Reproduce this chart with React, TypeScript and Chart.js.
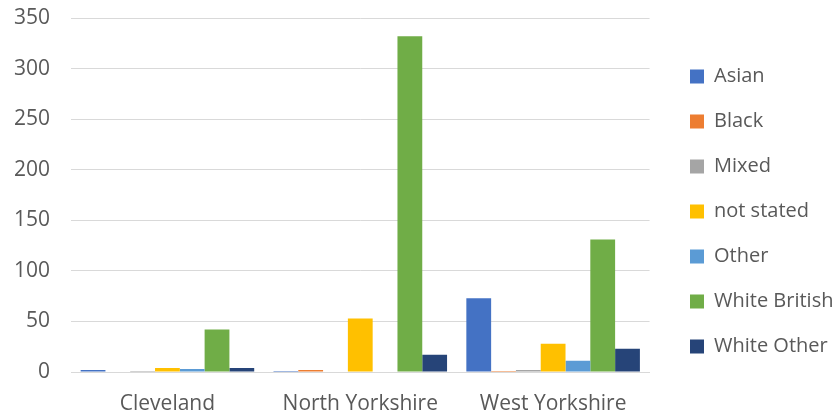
import React, { useEffect, useRef } from "react";
import { Chart, registerables } from "chart.js";

Chart.register(...registerables);

const categories = ["Cleveland", "North Yorkshire", "West Yorkshire"];
const seriesNames = ["Asian", "Black", "Mixed", "not stated", "Other", "White British", "White Other"];
const asian = [2, 1, 73];
const black = [0, 2, 1];
const mixed = [1, 0, 2];
const notStated = [4, 53, 28];
const other = [3, 0, 11];
const whiteBritish = [42, 332, 131];
const whiteOther = [4, 17, 23];
const colors = ["#4472C4", "#ED7D31", "#A5A5A5", "#FFC000", "#5B9BD5", "#70AD47", "#264478"];
const yTicks = [0, 50, 100, 150, 200, 250, 300, 350];

const LEGEND_BOX_X = 690;
const LEGEND_DY = -4;

const legendShift = {
  id: "legendShift",
  beforeLayout(chart: any) {
    const lg = chart.legend;
    if (lg && !lg._shiftWrapped) {
      const d = lg.draw.bind(lg);
      lg.draw = function () {
        const pad = this.options.labels.padding;
        const dx = LEGEND_BOX_X - (this.left + pad);
        this.ctx.save();
        this.ctx.translate(dx, LEGEND_DY);
        d();
        this.ctx.restore();
      };
      lg._shiftWrapped = true;
    }
  },
};

export default function App() {
  const ref = useRef<HTMLCanvasElement | null>(null);
  useEffect(() => {
    if (!ref.current) return;
    const values = [asian, black, mixed, notStated, other, whiteBritish, whiteOther];
    const font = { family: "'Open Sans', sans-serif", size: 21 };
    const chart = new Chart(ref.current, {
      type: "bar",
      data: {
        labels: categories,
        datasets: seriesNames.map((n, i) => ({
          label: n,
          data: values[i],
          backgroundColor: colors[i],
          borderWidth: 0,
          barPercentage: 1,
          categoryPercentage: 0.9,
        })),
      },
      plugins: [legendShift],
      options: {
        responsive: false,
        animation: false,
        layout: { padding: { top: 18, left: 0, right: 10, bottom: 0 } },
        plugins: {
          tooltip: { enabled: false },
          legend: {
            position: "right",
            labels: {
              boxWidth: 14,
              boxHeight: 14,
              padding: 25,
              color: "#595959",
              font: { family: "'Open Sans', sans-serif", size: 20 },
            },
          },
        },
        scales: {
          x: {
            grid: { display: false },
            border: { color: "#d9d9d9", width: 1 },
            ticks: { color: "#595959", font, padding: 11 },
            afterFit: (s: any) => {
              s.height = 41;
              s.paddingLeft = 0;
              s.paddingRight = 0;
            },
          },
          y: {
            min: 0,
            max: 350,
            afterBuildTicks: (s: any) => {
              s.ticks = yTicks.map((v) => ({ value: v }));
            },
            afterFit: (s: any) => {
              s.width = 71;
              s.paddingTop = 0;
              s.paddingBottom = 0;
            },
            grid: { color: "#d9d9d9", drawTicks: false },
            border: { display: false },
            ticks: { color: "#595959", font, padding: 21 },
          },
        },
      },
    });
    return () => chart.destroy();
  }, []);
  return (
    <div style={{ position: "fixed", left: 0, top: 0, width: 838, height: 413, background: "#fff" }}>
      <canvas ref={ref} width={838} height={413} style={{ display: "block" }} />
    </div>
  );
}
